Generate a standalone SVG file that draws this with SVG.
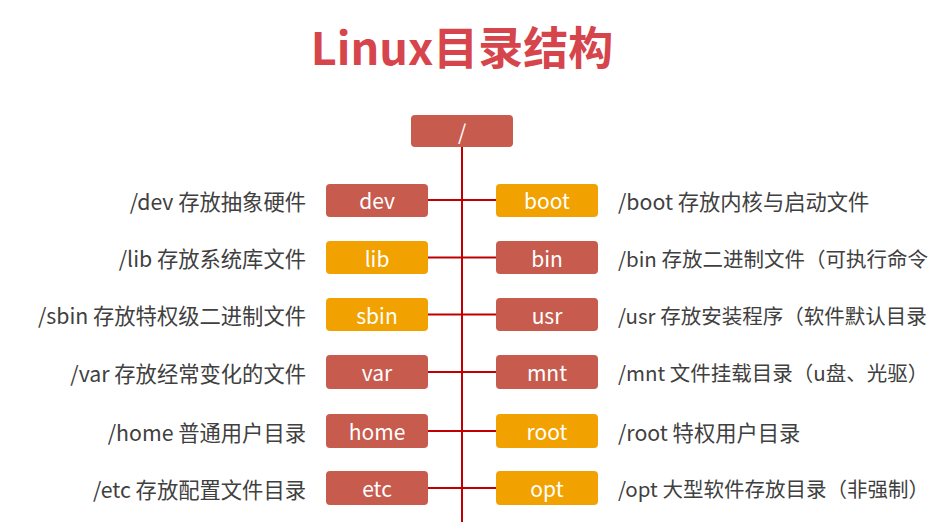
<svg xmlns="http://www.w3.org/2000/svg" width="937" height="522" viewBox="0 0 937 522">
<style>
.bg{fill:#ffffff}
.title{font-family:"Noto Sans CJK SC","Noto Sans",sans-serif;font-weight:bold;font-size:45px;fill:#D6444C}
.r{fill:#C65B4E}
.o{fill:#F2A200}
.bt{font-family:"Noto Sans CJK SC","Noto Sans",sans-serif;font-size:21px;fill:#ffffff;text-anchor:middle;dominant-baseline:central}
.lbl{font-family:"Noto Sans CJK SC","Noto Sans",sans-serif;font-size:21.3px;fill:#404040;dominant-baseline:central}
.long{font-size:20.5px}
.l{text-anchor:end}
.ln{stroke:#C00000;stroke-width:2;fill:none}
</style>
<rect class="bg" x="0" y="0" width="937" height="522"/>
<text class="title" x="462" y="65" text-anchor="middle">Linux目录结构</text>
<g id="connectors">
<line class="ln" x1="462" y1="147" x2="462" y2="522"/>
<line class="ln" x1="428" y1="200" x2="496" y2="200"/>
<line class="ln" x1="428" y1="257.5" x2="496" y2="257.5"/>
<line class="ln" x1="428" y1="314.5" x2="496" y2="314.5"/>
<line class="ln" x1="428" y1="372" x2="496" y2="372"/>
<line class="ln" x1="428" y1="431" x2="496" y2="431"/>
<line class="ln" x1="428" y1="488" x2="496" y2="488"/>
</g>
<g id="root"><rect class="r" x="411" y="115" width="102" height="32" rx="4"/><text class="bt" x="462" y="131">/</text></g>
<g id="dev"><rect class="r" x="326" y="184" width="102" height="33" rx="4"/><text class="bt" x="377" y="200">dev</text><text class="lbl l" x="306" y="200">/dev 存放抽象硬件</text></g>
<g id="lib"><rect class="o" x="326" y="241" width="102" height="33" rx="4"/><text class="bt" x="377" y="257.5">lib</text><text class="lbl l" x="306" y="257.5">/lib 存放系统库文件</text></g>
<g id="sbin"><rect class="o" x="326" y="298" width="102" height="33" rx="4"/><text class="bt" x="377" y="314.5">sbin</text><text class="lbl l" x="306" y="314.5">/sbin 存放特权级二进制文件</text></g>
<g id="var"><rect class="r" x="326" y="355" width="102" height="34" rx="4"/><text class="bt" x="377" y="372">var</text><text class="lbl l" x="306" y="372">/var 存放经常变化的文件</text></g>
<g id="home"><rect class="r" x="326" y="414" width="102" height="34" rx="4"/><text class="bt" x="377" y="431">home</text><text class="lbl l" x="306" y="431">/home 普通用户目录</text></g>
<g id="etc"><rect class="r" x="326" y="471" width="102" height="34" rx="4"/><text class="bt" x="377" y="488">etc</text><text class="lbl l" x="306" y="488">/etc 存放配置文件目录</text></g>
<g id="boot"><rect class="o" x="496" y="184" width="102" height="33" rx="4"/><text class="bt" x="547" y="200">boot</text><text class="lbl" x="618" y="200">/boot 存放内核与启动文件</text></g>
<g id="bin"><rect class="r" x="496" y="241" width="102" height="33" rx="4"/><text class="bt" x="547" y="257.5">bin</text><text class="lbl long" x="618" y="257.5">/bin 存放二进制文件（可执行命令</text></g>
<g id="usr"><rect class="r" x="496" y="298" width="102" height="33" rx="4"/><text class="bt" x="547" y="314.5">usr</text><text class="lbl long" x="618" y="314.5">/usr 存放安装程序（软件默认目录</text></g>
<g id="mnt"><rect class="r" x="496" y="355" width="102" height="34" rx="4"/><text class="bt" x="547" y="372">mnt</text><text class="lbl long" x="618" y="372">/mnt 文件挂载目录（u盘、光驱）</text></g>
<g id="rootdir"><rect class="o" x="496" y="414" width="102" height="34" rx="4"/><text class="bt" x="547" y="431">root</text><text class="lbl" x="618" y="431">/root 特权用户目录</text></g>
<g id="opt"><rect class="o" x="496" y="471" width="102" height="34" rx="4"/><text class="bt" x="547" y="488">opt</text><text class="lbl long" x="618" y="488">/opt 大型软件存放目录（非强制）</text></g>
</svg>
